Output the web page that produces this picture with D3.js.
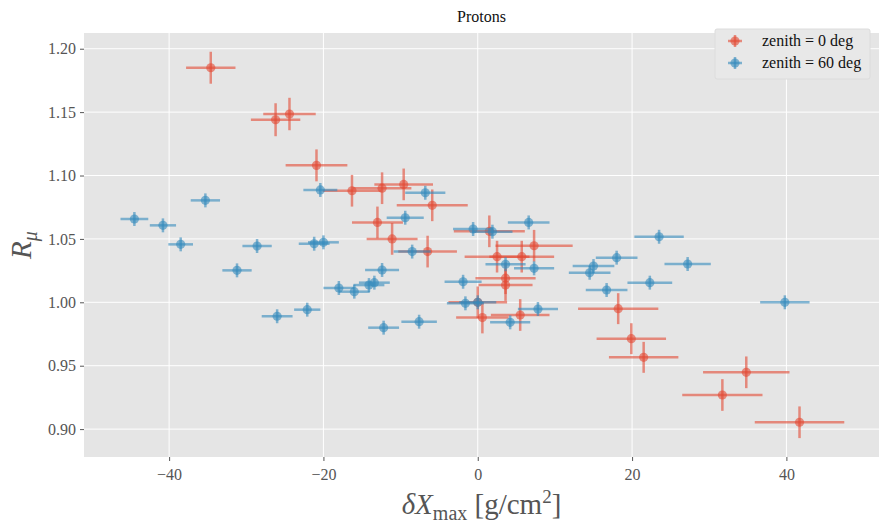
<!DOCTYPE html>
<html>
<head>
<meta charset="utf-8">
<script src="https://cdn.jsdelivr.net/npm/d3@7"></script>
<style>
  body { margin: 0; background: #fff; }
  text { font-family: 'Liberation Serif', 'DejaVu Serif', serif; }
</style>
</head>
<body>
<div class="container"></div>
<script>
var w = 879, h = 524

// zenith = 0 deg
var redX    = [-34.6, -26.2, -24.4, -20.9, -16.3, -12.4, -9.6, -5.9, -13.0, -11.1, -6.5, 1.5, 2.5, 5.7, 7.3, 3.6, 3.6, 0.0, 0.6, 5.5, 18.2, 19.9, 21.5, 34.8, 31.7, 41.7]
var redY    = [1.185, 1.144, 1.1485, 1.108, 1.088, 1.090, 1.093, 1.0765, 1.063, 1.050, 1.040, 1.056, 1.036, 1.036, 1.0446, 1.019, 1.0136, 1.000, 0.988, 0.990, 0.995, 0.9713, 0.9566, 0.9448, 0.9269, 0.9054]
var redXerr = [3.2, 3.2, 3.4, 4.0, 3.8, 3.8, 3.8, 4.6, 3.3, 3.3, 3.8, 4.6, 4.2, 4.2, 5.0, 3.9, 3.5, 3.8, 3.4, 3.8, 5.2, 4.5, 4.5, 5.6, 5.2, 5.8]
var redYerr = [0.0126, 0.013, 0.0128, 0.0126, 0.0125, 0.0125, 0.0125, 0.0125, 0.0125, 0.0125, 0.0125, 0.0125, 0.0125, 0.0125, 0.0125, 0.0125, 0.0125, 0.0125, 0.0125, 0.0125, 0.0122, 0.0122, 0.0122, 0.0125, 0.0125, 0.0125]

// zenith = 60 deg
var blueX    = [-44.5, -40.8, -38.5, -35.3, -31.2, -28.6, -26.0, -22.1, -21.2, -20.0, -20.4, -18.0, -16.0, -14.1, -13.4, -12.4, -12.2, -9.4, -8.5, -7.6, -6.8, -1.9, -1.6, 0.0, -0.6, 1.9, 3.6, 4.2, 6.6, 7.3, 7.8, 14.5, 15.0, 16.7, 18.0, 22.3, 23.5, 27.2, 39.8]
var blueY    = [1.0657, 1.0607, 1.0457, 1.0804, 1.0252, 1.0444, 0.989, 0.9942, 1.0462, 1.0473, 1.0886, 1.0113, 1.0084, 1.0136, 1.0155, 1.0255, 0.980, 1.0667, 1.040, 0.9847, 1.0864, 1.0162, 0.9992, 1.000, 1.0578, 1.0557, 1.030, 0.9842, 1.063, 1.0268, 0.9947, 1.0233, 1.0286, 1.0097, 1.0352, 1.0155, 1.0517, 1.0302, 1.000]
var blueXerr = [1.8, 1.7, 1.6, 1.9, 1.9, 1.9, 2.0, 1.7, 2.0, 2.0, 2.2, 2.0, 2.0, 2.0, 2.0, 2.2, 2.0, 2.4, 2.4, 2.3, 2.6, 2.4, 2.4, 2.4, 2.6, 2.6, 2.6, 2.6, 2.7, 2.6, 2.6, 2.7, 2.7, 2.7, 2.7, 2.9, 3.2, 3.0, 3.2]
var blueYerr = [0.0055, 0.0055, 0.0055, 0.0055, 0.0055, 0.0055, 0.0055, 0.0055, 0.0055, 0.0055, 0.0055, 0.0055, 0.0055, 0.0055, 0.0055, 0.0055, 0.0055, 0.0055, 0.0055, 0.0055, 0.0055, 0.0055, 0.0055, 0.0055, 0.0055, 0.0055, 0.0055, 0.0055, 0.0055, 0.0055, 0.0055, 0.0055, 0.0055, 0.0055, 0.0055, 0.0055, 0.0055, 0.0055, 0.0055]

var xTicks = [-40, -20, 0, 20, 40]
var yTicks = [0.90, 0.95, 1.00, 1.05, 1.10, 1.15, 1.20]

var series = [
    { label: 'zenith = 0 deg',  color: '#E24A33', xs: redX,  ys: redY,  xe: redXerr,  ye: redYerr },
    { label: 'zenith = 60 deg', color: '#348ABD', xs: blueX, ys: blueY, xe: blueXerr, ye: blueYerr }
]

var pLeft = 84, pRight = 879, pTop = 33, pBottom = 457
var alpha = 0.6

var x = d3.scaleLinear().domain([-51.03, 52.0]).range([pLeft, pRight])
var y = d3.scaleLinear().domain([0.878, 1.2124]).range([pBottom, pTop])

var svg = d3.select('.container')
    .append('svg')
    .attr('width', w)
    .attr('height', h)

svg.append('rect')
    .attr('x', pLeft)
    .attr('y', pTop)
    .attr('width', pRight - pLeft)
    .attr('height', pBottom - pTop)
    .style('fill', '#E5E5E5')

// grid
svg.selectAll('.gx')
    .data(xTicks)
    .enter()
    .append('line')
    .attr('x1', d => x(d)).attr('x2', d => x(d))
    .attr('y1', pTop).attr('y2', pBottom)
    .style('stroke', 'white')
    .style('stroke-width', 1)

svg.selectAll('.gy')
    .data(yTicks)
    .enter()
    .append('line')
    .attr('x1', pLeft).attr('x2', pRight)
    .attr('y1', d => y(d)).attr('y2', d => y(d))
    .style('stroke', 'white')
    .style('stroke-width', 1)

// axes
var xAxis = svg.append('g')
    .attr('transform', 'translate(0,' + pBottom + ')')
    .call(d3.axisBottom(x).tickValues(xTicks).tickSize(4).tickPadding(4).tickFormat(d3.format('d')))

var yAxis = svg.append('g')
    .attr('transform', 'translate(' + pLeft + ',0)')
    .call(d3.axisLeft(y).tickValues(yTicks).tickSize(4).tickPadding(4).tickFormat(d3.format('.2f')))

svg.selectAll('.domain').remove()
svg.selectAll('.tick line').style('stroke', '#555').style('stroke-width', 1)
svg.selectAll('.tick text')
    .style('fill', '#555')
    .style('font-size', '16px')
    .style('font-family', "'Liberation Serif', serif")
xAxis.selectAll('.tick text').attr('dy', '0.95em')

// error bars, alpha on each artist like matplotlib
series.forEach(s => {
    var pts = s.xs.map((v, i) => ({ x: v, y: s.ys[i], xe: s.xe[i], ye: s.ye[i] }))
    var g = svg.append('g')
    var p = g.selectAll('g')
        .data(pts)
        .enter()
        .append('g')
    p.append('line')
        .attr('x1', d => x(d.x - d.xe)).attr('x2', d => x(d.x + d.xe))
        .attr('y1', d => y(d.y)).attr('y2', d => y(d.y))
        .style('stroke', s.color)
        .style('stroke-opacity', alpha)
        .style('stroke-width', 2.5)
    p.append('line')
        .attr('x1', d => x(d.x)).attr('x2', d => x(d.x))
        .attr('y1', d => y(d.y - d.ye)).attr('y2', d => y(d.y + d.ye))
        .style('stroke', s.color)
        .style('stroke-opacity', alpha)
        .style('stroke-width', 2.5)
    p.append('circle')
        .attr('cx', d => x(d.x))
        .attr('cy', d => y(d.y))
        .attr('r', 4.6)
        .style('fill', s.color)
        .style('fill-opacity', alpha)
})

// title
svg.append('text')
    .attr('x', (pLeft + pRight) / 2)
    .attr('y', 22)
    .attr('text-anchor', 'middle')
    .style('font-size', '16px')
    .style('fill', '#111')
    .text('Protons')

// axis labels
var xl = svg.append('text')
    .attr('x', (pLeft + pRight) / 2)
    .attr('y', 514)
    .attr('text-anchor', 'middle')
    .style('font-size', '29px')
    .style('fill', '#555')
xl.append('tspan').style('font-style', 'italic').text('δX')
xl.append('tspan').attr('dy', 6).style('font-size', '20px').text('max')
xl.append('tspan').attr('dy', -6).text(' [g/cm')
xl.append('tspan').attr('dy', -11).style('font-size', '19px').text('2')
xl.append('tspan').attr('dy', 11).text(']')

var yl = svg.append('text')
    .attr('transform', 'translate(31,' + ((pTop + pBottom) / 2) + ') rotate(-90)')
    .attr('text-anchor', 'middle')
    .style('font-size', '29px')
    .style('fill', '#555')
yl.append('tspan').style('font-style', 'italic').text('R')
yl.append('tspan').attr('dy', 6).style('font-size', '20px').style('font-style', 'italic').text('μ')

// legend
var lg = svg.append('g')
lg.append('rect')
    .attr('x', 715).attr('y', 29)
    .attr('width', 155).attr('height', 50)
    .attr('rx', 2)
    .style('fill', '#E8E8E8')
    .style('stroke', '#DCDCDC')
    .style('stroke-width', 1)

var li = lg.selectAll('.li')
    .data(series)
    .enter()
    .append('g')
    .attr('transform', (d, i) => 'translate(735,' + (41 + i * 22) + ')')
li.each(function(d) {
    var e = d3.select(this)
    e.append('line').attr('x1', -7).attr('x2', 7).attr('y1', 0).attr('y2', 0)
        .style('stroke', d.color).style('stroke-opacity', alpha).style('stroke-width', 2.5)
    e.append('line').attr('x1', 0).attr('x2', 0).attr('y1', -6).attr('y2', 6)
        .style('stroke', d.color).style('stroke-opacity', alpha).style('stroke-width', 2.5)
    e.append('circle').attr('r', 4.6).style('fill', d.color).style('fill-opacity', alpha)
})
li.append('text')
    .attr('x', 27)
    .attr('y', 5)
    .style('font-size', '16px')
    .style('fill', '#111')
    .text(d => d.label)
</script>
</body>
</html>
